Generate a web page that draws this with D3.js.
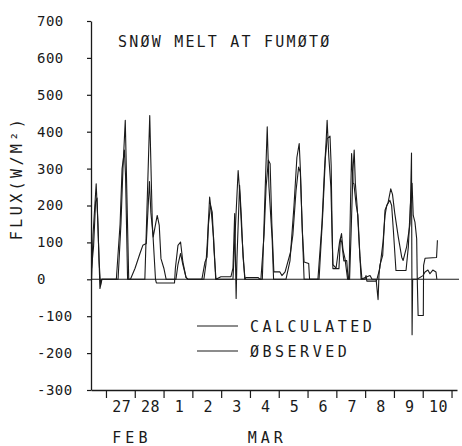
<!DOCTYPE html>
<html>
<head>
<meta charset="utf-8">
<script src="https://cdn.jsdelivr.net/npm/d3@7"></script>
<style>
  html, body { margin: 0; padding: 0; background: #fff; }
  svg { display: block; }
  text { font-family: "DejaVu Sans Mono", monospace; fill: #1a1a1a; }
</style>
</head>
<body>
<svg id="chart" width="462" height="446"></svg>
<script>
// Time in days from 27 Feb 00:00; flux in W/m^2
const calculated = [
  [-0.50, 0], [-0.45, 120], [-0.34, 259], [-0.28, 150], [-0.21, -25], [-0.14, 0],
  [0.42, 0], [0.52, 150], [0.59, 300], [0.67, 431], [0.79, 0],
  [1.35, 0], [1.42, 180], [1.52, 444], [1.61, 150], [1.72, 0], [1.75, -10], [2.38, -10],
  [2.41, 30], [2.50, 92], [2.59, 101], [2.67, 47], [2.78, 5], [2.85, 0],
  [3.40, 0], [3.47, 40], [3.52, 100], [3.60, 223], [3.65, 190], [3.74, 110], [3.81, 0],
  [4.41, 0], [4.50, 150], [4.59, 295], [4.65, 230], [4.72, 120], [4.82, 0],
  [4.86, 5], [5.28, 5], [5.35, 0],
  [5.43, 0], [5.51, 200], [5.60, 413], [5.66, 250], [5.73, 160], [5.77, 110], [5.82, 0],
  [6.25, 0], [6.39, 50], [6.53, 200], [6.63, 330], [6.71, 368], [6.75, 300], [6.81, 150], [6.88, 0],
  [7.36, 0], [7.50, 150], [7.59, 300], [7.65, 381], [7.68, 431], [7.74, 330], [7.81, 250],
  [7.88, 40], [7.99, 30], [8.11, 100], [8.18, 124], [8.23, 80], [8.30, 56], [8.39, 0],
  [8.46, 0], [8.51, 120], [8.58, 300], [8.62, 350], [8.66, 260], [8.72, 200], [8.81, 74], [8.86, 0],
  [9.17, 10], [9.24, 0],
  [9.38, 0], [9.45, -55], [9.48, 10], [9.51, 38], [9.61, 65], [9.69, 187], [9.80, 209],
  [9.89, 245], [9.95, 230], [10.03, 178], [10.15, 115], [10.27, 60], [10.32, 51],
  [10.44, 88], [10.56, 151], [10.61, 342], [10.63, -150], [10.65, 0], [10.80, 0],
  [11.01, 10], [11.08, 20], [11.18, 25], [11.25, 15], [11.35, 25], [11.46, 20], [11.49, 0]
];

const observed = [
  [-0.50, 30], [-0.43, 90], [-0.36, 210], [-0.31, 220], [-0.24, 50], [-0.19, -15], [-0.16, 0],
  [0.36, 0], [0.49, 150], [0.56, 300], [0.61, 330], [0.64, 350], [0.68, 280], [0.75, 0],
  [0.85, 0], [1.01, 30], [1.18, 70], [1.28, 92], [1.40, 97], [1.46, 190], [1.51, 265],
  [1.56, 180], [1.64, 115], [1.70, 140], [1.78, 173], [1.85, 146], [1.91, 56], [2.01, 30], [2.09, 0],
  [2.43, 0], [2.50, 40], [2.59, 70], [2.67, 40], [2.78, 5], [2.85, 0],
  [3.33, 0], [3.44, 47], [3.51, 60], [3.56, 150], [3.63, 200], [3.69, 182], [3.75, 80], [3.82, 0],
  [3.99, 7], [4.34, 7],
  [4.41, 30], [4.47, 178], [4.52, -52], [4.55, 60], [4.64, 255], [4.70, 172], [4.76, 60], [4.83, 0],
  [5.38, 0], [5.49, 120], [5.56, 250], [5.64, 323], [5.70, 313], [5.76, 150], [5.83, 20],
  [6.04, 20], [6.11, 10], [6.22, 20], [6.41, 74], [6.49, 120], [6.60, 240], [6.69, 304],
  [6.75, 290], [6.82, 130], [6.88, 47], [7.04, 43], [7.07, 0],
  [7.40, 0], [7.53, 180], [7.62, 330], [7.68, 381], [7.78, 388], [7.82, 309], [7.85, 150],
  [7.88, 29], [8.09, 29], [8.14, 110], [8.19, 100], [8.26, 50], [8.36, 51], [8.41, 0],
  [8.44, 0], [8.49, 200], [8.53, 341], [8.58, 260], [8.61, 259], [8.69, 200], [8.75, 173], [8.82, 60], [8.89, 0],
  [8.99, 0], [9.03, 10], [9.06, -5], [9.38, -5], [9.41, 0],
  [9.51, 30], [9.62, 100], [9.69, 173], [9.75, 200], [9.86, 214], [9.92, 200], [9.98, 133],
  [10.07, 24], [10.42, 24], [10.50, 88], [10.57, 200], [10.63, 260], [10.67, 173], [10.73, 155],
  [10.79, 110], [10.81, 0], [10.84, -98], [11.02, -98], [11.03, 38], [11.08, 57], [11.48, 59], [11.51, 106]
];

const yTicks = [-300, -200, -100, 0, 100, 200, 300, 400, 500, 600, 700];
const dayTicks = [0, 1, 2, 3, 4, 5, 6, 7, 8, 9, 10, 11, 12];
const dayLabels = ["27", "28", "1", "2", "3", "4", "5", "6", "7", "8", "9", "10"];
const monthLabels = [{ text: "FEB", day: 0.9 }, { text: "MAR", day: 5.6 }];
const seriesNames = ["CALCULATED", "ØBSERVED"];

const svg = d3.select("#chart");
const ink = "#1a1a1a";

const x = d3.scaleLinear().domain([-0.52, 12.19]).range([91, 457]);
const y = d3.scaleLinear().domain([-300, 700]).range([390, 21]);

// zero reference
svg.append("line")
  .attr("x1", x.range()[0]).attr("x2", x.range()[1] + 2)
  .attr("y1", y(0)).attr("y2", y(0))
  .attr("stroke", ink).attr("stroke-width", 1.1);

// data lines
const line = d3.line().x(d => x(d[0])).y(d => y(d[1]));
[calculated, observed].forEach(s => {
  svg.append("path")
    .datum(s)
    .attr("d", line)
    .attr("fill", "none")
    .attr("stroke", ink)
    .attr("stroke-width", 1.1)
    .attr("stroke-linejoin", "round");
});

// y axis
const yAxis = svg.append("g")
  .attr("transform", `translate(${x.range()[0]},0)`)
  .call(d3.axisLeft(y).tickValues(yTicks).tickSize(4).tickSizeOuter(0).tickFormat(d3.format("d")));
yAxis.select(".domain").attr("stroke", ink).attr("stroke-width", 1.3);
yAxis.selectAll(".tick line").attr("stroke", ink).attr("stroke-width", 1.2);
yAxis.selectAll(".tick text")
  .attr("x", 37 - x.range()[0])
  .attr("text-anchor", "start")
  .attr("font-size", 14)
  .style("letter-spacing", "0.5px")
  .style("font-family", "'DejaVu Sans Mono', monospace")
  .attr("fill", ink)
  .text(d => d < 0 ? "-" + Math.abs(d) : d);

// x axis
const xAxis = svg.append("g")
  .attr("transform", `translate(0,${y(-300)})`)
  .call(d3.axisBottom(x).tickValues(dayTicks).tickSize(8).tickSizeOuter(0).tickFormat(""));
xAxis.select(".domain").attr("stroke", ink).attr("stroke-width", 1.3);
xAxis.selectAll(".tick line").attr("stroke", ink).attr("stroke-width", 1.2);

svg.append("g").selectAll("text")
  .data(dayLabels)
  .join("text")
  .attr("x", (d, i) => x(dayTicks[i] + 0.55))
  .attr("y", 412)
  .attr("text-anchor", "middle")
  .attr("font-size", 15)
  .style("letter-spacing", "0.5px")
  .text(d => d);

svg.append("g").selectAll("text")
  .data(monthLabels)
  .join("text")
  .attr("x", d => x(d.day))
  .attr("y", 443)
  .attr("text-anchor", "middle")
  .attr("font-size", 15)
  .style("letter-spacing", "4px")
  .text(d => d.text);

// title
svg.append("text")
  .attr("x", 118).attr("y", 47)
  .attr("font-size", 15)
  .style("letter-spacing", "2.2px")
  .text("SNØW MELT AT FUMØTØ");

// y-axis title
svg.append("text")
  .attr("transform", "translate(22,178) rotate(-90)")
  .attr("text-anchor", "middle")
  .attr("font-size", 15)
  .style("letter-spacing", "3.4px")
  .text("FLUX(W/M²)");

// legend
const legend = svg.append("g");
seriesNames.forEach((name, i) => {
  const ly = 326 + i * 25;
  legend.append("line")
    .attr("x1", 197).attr("x2", 238)
    .attr("y1", ly).attr("y2", ly)
    .attr("stroke", ink).attr("stroke-width", 1.1);
  legend.append("text")
    .attr("x", 250).attr("y", ly + 5.5)
    .attr("font-size", 15)
    .style("letter-spacing", "3.5px")
    .text(name);
});
</script>
</body>
</html>
